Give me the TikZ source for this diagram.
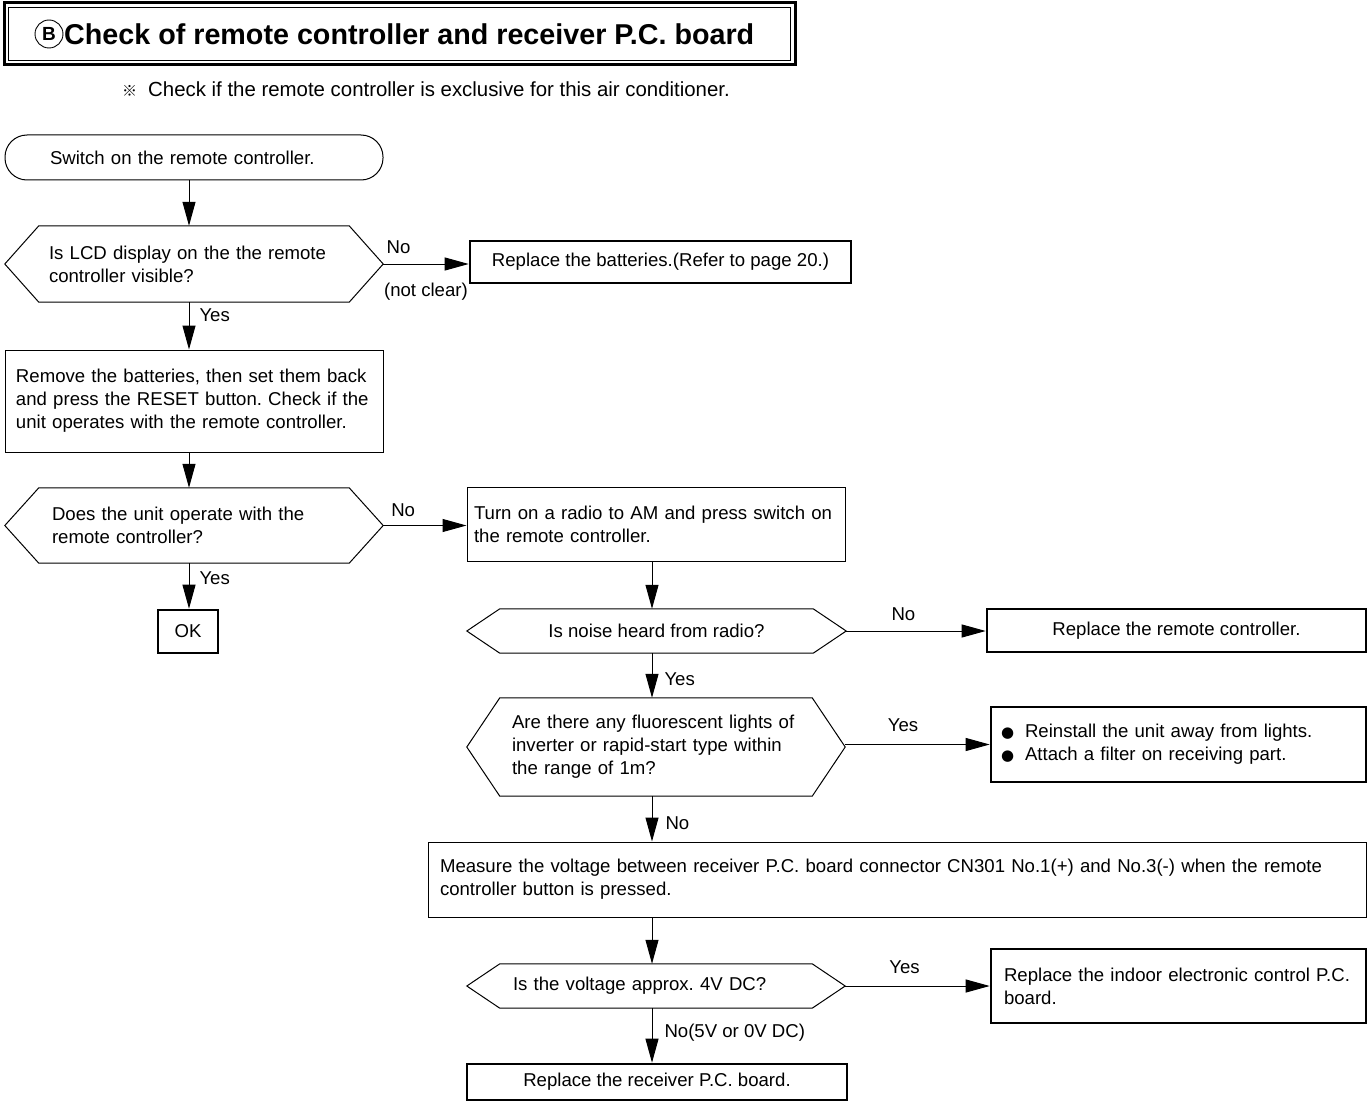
\documentclass[tikz,border=0pt]{standalone}
\usepackage{fontspec}
\setmainfont{Liberation Sans}
\newfontfamily\cjkf{Noto Sans CJK JP}
\newfontfamily\symf{DejaVu Sans}
\usetikzlibrary{arrows.meta,calc}
\frenchspacing
\tikzset{
  base/.style={font=\fontsize{18.6}{23}\selectfont\frenchspacing},
  box/.style={draw, line width=1pt, base, inner ysep=0pt},
  tbox/.style={draw, line width=2.6pt, base, inner ysep=0pt},
  hexn/.style={base, inner ysep=0pt},
  arr/.style={line width=1pt, -{Triangle[length=24pt,width=13pt]}},
  lbl/.style={base, inner sep=0pt},
}
\newcommand\hexpath[2]{\draw[line width=1pt] (#1.west) -- ([xshift=#2]#1.north west) -- ([xshift=-#2]#1.north east) -- (#1.east) -- ([xshift=-#2]#1.south east) -- ([xshift=#2]#1.south west) -- cycle;}
\newcommand\bul{\makebox[24pt][l]{\symf\fontsize{15}{15}\selectfont ●}}
\begin{document}
\begin{tikzpicture}[x=1pt,y=-1pt]
\useasboundingbox (0,0) rectangle (1367,1102);
\fill[white] (0,0) rectangle (1367,1102);

% title
\node[draw, line width=3pt, minimum width=791pt, minimum height=62pt] (title) at (399.5,34) {};
\draw[line width=1.2pt] ([shift={(6,6)}]title.north west) rectangle ([shift={(-6,-6)}]title.south east);
\node[circle, draw, line width=0.9pt, inner sep=3.2pt, font=\bfseries\fontsize{19}{19}\selectfont] (tB) at (49,34) {B};
\node[anchor=west, inner sep=0pt, font=\bfseries\fontsize{28.7}{30}\selectfont] (ttl) at (64,34) {Check of remote controller and receiver P.C. board};
\node[anchor=west, inner sep=0pt, font=\fontsize{20.4}{24}\selectfont] (note) at (122,89) {{\cjkf\fontsize{15}{15}\selectfont ※}\hspace{11pt}Check if the remote controller is exclusive for this air conditioner.};

% nodes
\node[box, rounded corners=22pt, minimum width=378pt, minimum height=45pt, text width=288pt, inner xsep=45pt, align=left] (start) at (194,157.5) {Switch on the remote controller.};

\node[hexn, minimum height=76pt, text width=290pt, inner xsep=44pt, align=left] (d1) at (194,264) {Is LCD display on the the remote\\controller visible?};
\hexpath{d1}{34pt}

\node[tbox, minimum width=381pt, minimum height=42pt] (b1) at (660.5,262) {Replace the batteries.(Refer to page 20.)};

\node[box, text width=356pt, inner xsep=11pt, minimum height=102pt, align=left] (box2) at (194,401) {Remove the batteries, then set them back\\and press the RESET button. Check if the\\unit operates with the remote controller.};

\node[hexn, minimum height=75pt, text width=284pt, inner xsep=47pt, align=left] (d2) at (194,525.5) {Does the unit operate with the\\remote controller?};
\hexpath{d2}{34pt}

\node[tbox, minimum width=60pt, minimum height=43pt, inner xsep=0pt] (ok) at (188,631.5) {OK};

\node[box, minimum height=74pt, text width=364pt, inner xsep=7pt, align=left] (turn) at (656,524) {Turn on a radio to AM and press switch on\\the remote controller.};

\node[hexn, minimum width=379pt, minimum height=44pt] (d3) at (656.5,631) {Is noise heard from radio?};
\hexpath{d3}{33pt}

\node[tbox, minimum width=379pt, minimum height=43pt] (remote) at (1176.5,630.5) {Replace the remote controller.};

\node[hexn, minimum height=98pt, text width=288pt, inner xsep=45pt, align=left] (d4) at (656,747) {Are there any fluorescent lights of\\inverter or rapid-start type within\\the range of 1m?};
\hexpath{d4}{33pt}

\node[tbox, minimum height=75pt, text width=355pt, inner xsep=10pt, align=left] (bl) at (1178.5,744.5) {\bul Reinstall the unit away from lights.\\\bul Attach a filter on receiving part.};

\node[box, minimum height=75pt, text width=914pt, inner xsep=12pt, align=left] (meas) at (897,879.5) {Measure the voltage between receiver P.C. board connector CN301 No.1(+) and No.3(-) when the remote\\controller button is pressed.};

\node[hexn, minimum height=44pt, text width=286pt, inner xsep=46pt, align=left] (d5) at (656,986) {Is the voltage approx. 4V DC?};
\hexpath{d5}{33pt}

\node[tbox, minimum height=74pt, text width=349pt, inner xsep=13pt, align=left] (indoor) at (1178.5,986) {Replace the indoor electronic control P.C.\\board.};

\node[tbox, minimum width=380pt, minimum height=36pt] (final) at (657,1082) {Replace the receiver P.C. board.};

% connectors
\coordinate (c1) at (189,0);
\coordinate (c2) at (652,0);
\draw[arr] (start.south -| c1) -- (d1.north -| c1);
\draw[arr] (d1.east) -- node[lbl, pos=0.18, above=10pt]{No} node[lbl, below=19pt]{(not clear)} (d1.east -| b1.west);
\draw[arr] (d1.south -| c1) -- node[lbl, pos=0.27, right=10pt]{Yes} (box2.north -| c1);
\draw[arr] (box2.south -| c1) -- (d2.north -| c1);
\draw[arr] (d2.south -| c1) -- node[lbl, pos=0.32, right=10pt]{Yes} (ok.north -| c1);
\draw[arr] (d2.east) -- node[lbl, pos=0.24, above=8pt]{No} (d2.east -| turn.west);
\draw[arr] (turn.south -| c2) -- (d3.north -| c2);
\draw[arr] (d3.east) -- node[lbl, pos=0.41, above=10pt]{No} (d3.east -| remote.west);
\draw[arr] (d3.south -| c2) -- node[lbl, pos=0.58, right=12pt]{Yes} (d4.north -| c2);
\draw[arr] (d4.east |- bl.west) -- node[lbl, pos=0.4, above=12pt]{Yes} (bl.west);
\draw[arr] (d4.south -| c2) -- node[lbl, pos=0.59, right=13pt]{No} (meas.north -| c2);
\draw[arr] (meas.south -| c2) -- (d5.north -| c2);
\draw[arr] (d5.east) -- node[lbl, pos=0.41, above=12pt]{Yes} (d5.east -| indoor.west);
\draw[arr] (d5.south -| c2) -- node[lbl, pos=0.45, right=12pt]{No(5V or 0V DC)} (final.north -| c2);
\end{tikzpicture}
\end{document}
